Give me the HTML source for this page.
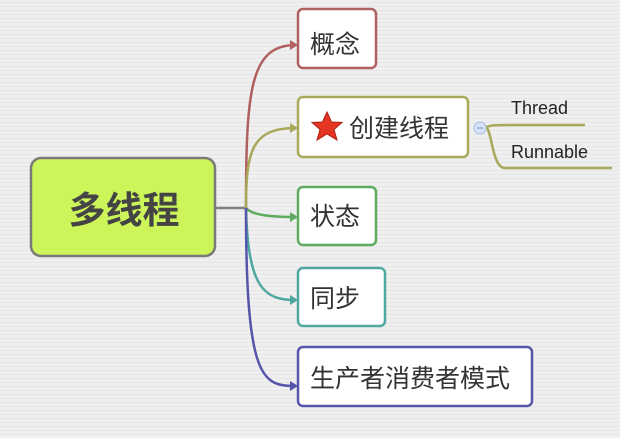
<!DOCTYPE html>
<html><head><meta charset="utf-8"><style>
html,body{margin:0;padding:0;width:620px;height:438px;overflow:hidden;background:#ececec;}
svg{display:block}
text{font-family:"Liberation Sans","Noto Sans CJK SC",sans-serif;}
</style></head><body>
<svg width="620" height="438" viewBox="0 0 620 438" xmlns="http://www.w3.org/2000/svg">
<defs>
<pattern id="st" width="4" height="4" patternUnits="userSpaceOnUse"><rect width="4" height="4" fill="#efefef"/><rect y="2" width="4" height="1" fill="#e6e6e6"/></pattern>
</defs>
<rect width="620" height="438" fill="url(#st)"/>
<g fill="none" stroke-width="2.5">
<line x1="215" y1="208" x2="246" y2="208" stroke="#808080"/>
<path d="M246 208 C246 90 250 45 296 45" stroke="#b06060"/>
<path d="M246 208 C246 150 252 128 296 128" stroke="#a9a95a"/>
<path d="M246 208 C252 215 270 217 296 217" stroke="#5fab5f"/>
<path d="M246 208 C248 290 265 300 296 300" stroke="#4fa8a0"/>
<path d="M246 208 C246 380 262 386 296 386" stroke="#5555aa"/>
<path d="M486 127 C492 125 495 125 510 125 L585 125" stroke="#a9a95a"/>
<path d="M486 127 C492 130 492 168 505 168 L612 168" stroke="#a9a95a"/>
</g>
<g>
<polygon points="298,45 290,40 290,50" fill="#b06060"/>
<polygon points="298,128 290,123 290,133" fill="#a9a95a"/>
<polygon points="298,217 290,212 290,222" fill="#5fab5f"/>
<polygon points="298,300 290,295 290,305" fill="#4fa8a0"/>
<polygon points="298,386 290,381 290,391" fill="#5555aa"/>
</g>
<rect x="31" y="158" width="184" height="98" rx="10" fill="#ccf55a" stroke="#7a7a7a" stroke-width="2.5"/>
<text x="124" y="223" font-size="37" font-weight="bold" fill="#444" text-anchor="middle">多线程</text>
<g fill="#fff" stroke-width="2.5">
<rect x="298" y="9" width="78" height="59" rx="5" stroke="#b06060"/>
<rect x="298" y="97" width="170" height="60" rx="5" stroke="#a9a95a"/>
<rect x="298" y="187" width="78" height="58" rx="5" stroke="#5fab5f"/>
<rect x="298" y="268" width="87" height="58" rx="5" stroke="#4fa8a0"/>
<rect x="298" y="347" width="234" height="59" rx="5" stroke="#5555aa"/>
</g>
<circle cx="480" cy="128" r="6" fill="#d6e4fa" stroke="#a9bde0" stroke-width="1"/>
<line x1="477" y1="128" x2="483" y2="128" stroke="#7a8fb8" stroke-width="1"/>
<g font-size="25" fill="#333">
<text x="310" y="53">概念</text>
<text x="349" y="137">创建线程</text>
<text x="310" y="225">状态</text>
<text x="310" y="307">同步</text>
<text x="310" y="387">生产者消费者模式</text>
</g>
<polygon points="327,112 331.5,122 342,122.5 334,129.5 337,140 327,134 317,140 320,129.5 312,122.5 322.5,122" fill="#e53525" stroke="#b02010" stroke-width="1"/>
<g font-size="18" fill="#222">
<text x="511" y="114">Thread</text>
<text x="511" y="158">Runnable</text>
</g>
</svg>
</body></html>
